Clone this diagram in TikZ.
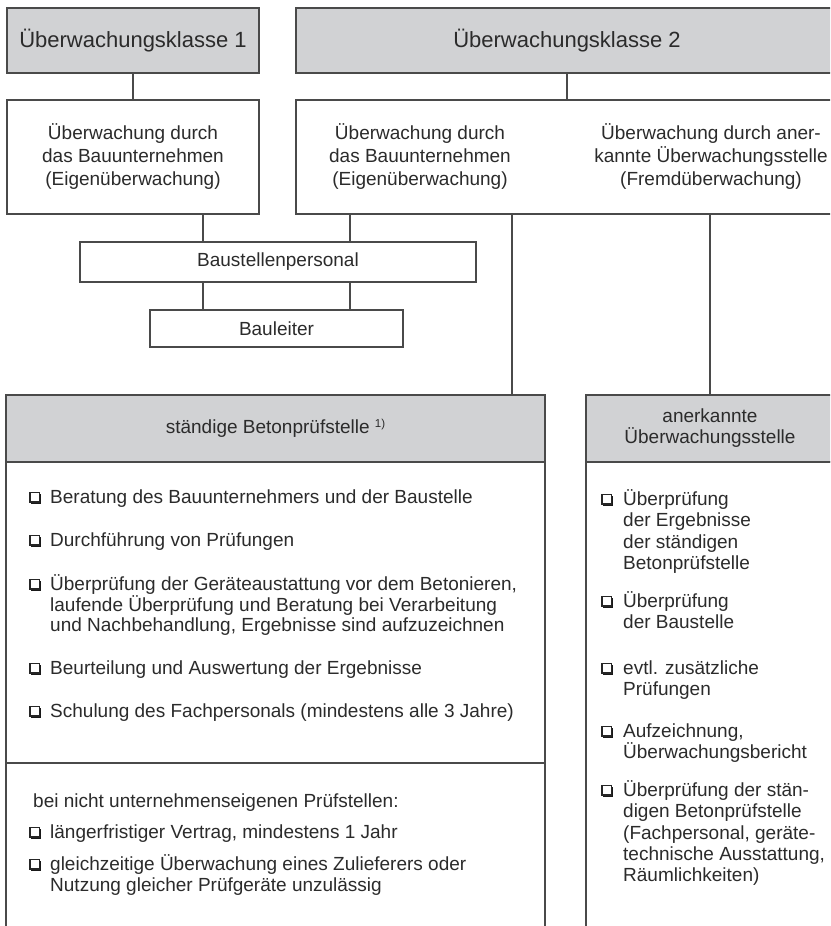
\documentclass[tikz,border=0pt]{standalone}
\usepackage{fontspec}
\setmainfont{Liberation Sans}
\usetikzlibrary{calc}

\definecolor{linegray}{HTML}{4A4A4A}
\definecolor{headgray}{HTML}{D1D2D4}
\definecolor{textgray}{HTML}{2B2B2B}

% shadowed check box used in front of every list entry
\newcommand\cbx{\tikz[baseline=0pt,x=1pt,y=1pt]{%
  \fill[black!90] (2.2,-0.4) rectangle (12.2,9.6);
  \draw[black!85,fill=white,line width=1.6pt] (0.8,1.4) rectangle (10.2,10.8);}}
\newcommand\fl{\rule{0pt}{19pt}}          % fixed height of the first line
\newcommand\cbl{\makebox[21pt][l]{\cbx}}  % box + gap, left column
\newcommand\cbr{\makebox[22pt][l]{\cbx}}  % box + gap, right column
\newcommand\indl{\hspace*{21pt}}
\newcommand\indr{\hspace*{22pt}}

\tikzset{
  frame/.style={draw=linegray, line width=1.4pt, inner sep=0pt},
  headbox/.style={frame, fill=headgray},
  plainbox/.style={frame, fill=white},
  link/.style={draw=linegray, line width=1.4pt},
  headtext/.style={font=\fontsize{22}{26}\selectfont, text=textgray},
  bodytext/.style={font=\fontsize{19}{23}\selectfont, text=textgray, align=center},
  listitem/.style={font=\fontsize{19}{20.8}\selectfont, text=textgray, align=left,
                   anchor=north west, inner sep=0pt},
  listitemr/.style={listitem, font=\fontsize{19}{21.4}\selectfont},
}

\begin{document}
\begin{tikzpicture}[x=1pt, y=-1pt]
\useasboundingbox (0,0) rectangle (830,926);
\clip (0,0) rectangle (830,926);
\fill[white] (0,0) rectangle (830,926);

% monitoring classes
\node[headbox, headtext, minimum width=252, minimum height=65] (k1) at (133,40.5) {Überwachungsklasse 1};
\node[headbox, headtext, minimum width=542, minimum height=65] (k2) at (567,40.5) {Überwachungsklasse 2};

% who monitors
\node[plainbox, bodytext, minimum width=252, minimum height=114] (e1) at (133,157)
  {Überwachung durch\\das Bauunternehmen\\(Eigenüberwachung)};
\node[plainbox, minimum width=542, minimum height=114] (e2) at (567,157) {};
\node[bodytext] (e2l) at (420,157) {Überwachung durch\\das Bauunternehmen\\(Eigenüberwachung)};
\node[bodytext] (e2r) at (711,157) {Überwachung durch aner-\\kannte Überwachungsstelle\\(Fremdüberwachung)};

% site staff
\node[plainbox, bodytext, minimum width=396, minimum height=40] (bp) at (278,262) {Baustellenpersonal};
\node[plainbox, bodytext, minimum width=253, minimum height=37] (bl) at (276.5,328.5) {Bauleiter};

% permanent concrete testing body
\node[headbox, bodytext, minimum width=539, minimum height=67] (sb) at (275.5,428.5)
  {ständige Betonprüfstelle \raisebox{6pt}{\fontsize{11.5}{11.5}\selectfont 1)}};
\node[plainbox, minimum width=539, minimum height=301] (sbody) at (275.5,612.5) {};
\node[plainbox, minimum width=539, minimum height=197] (sfoot) at (275.5,861.5) {};

% recognised monitoring body
\node[headbox, bodytext, minimum width=248, minimum height=67] (ab) at (710,428.5)
  {anerkannte\\[-2pt]Überwachungsstelle};
\node[plainbox, minimum width=248, minimum height=498] (abody) at (710,711) {};

% connector columns
\coordinate (xa) at (203,0);
\coordinate (xb) at (350,0);
\coordinate (xc) at (512,0);
\coordinate (xd) at (710,0);

\draw[link] (k1.south) -- (e1.north);
\draw[link] (k2.south) -- (e2.north);
\draw[link] (e1.south -| xa) -- (bp.north -| xa);
\draw[link] (e2.south -| xb) -- (bp.north -| xb);
\draw[link] (bp.south -| xa) -- (bl.north -| xa);
\draw[link] (bp.south -| xb) -- (bl.north -| xb);
\draw[link] (e2.south -| xc) -- (sb.north -| xc);
\draw[link] (e2.south -| xd) -- (ab.north -| xd);

% tasks of the permanent testing body
\node[listitem] (s1) at (29,484) {\fl\cbl Beratung des Bauunternehmers und der Baustelle};
\node[listitem] (s2) at (29,527) {\fl\cbl Durchführung von Prüfungen};
\node[listitem] (s3) at (29,571) {\fl\cbl Überprüfung der Geräteaustattung vor dem Betonieren,\\
  \indl laufende Überprüfung und Beratung bei Verarbeitung\\
  \indl und Nachbehandlung, Ergebnisse sind aufzuzeichnen};
\node[listitem] (s4) at (29,655) {\fl\cbl Beurteilung und Auswertung der Ergebnisse};
\node[listitem] (s5) at (29,698) {\fl\cbl Schulung des Fachpersonals (mindestens alle 3 Jahre)};

\node[listitem] (f0) at (33,788) {\fl bei nicht unternehmenseigenen Prüfstellen:};
\node[listitem] (f1) at (29,819) {\fl\cbl längerfristiger Vertrag, mindestens 1 Jahr};
\node[listitem] (f2) at (29,851) {\fl\cbl gleichzeitige Überwachung eines Zulieferers oder\\
  \indl Nutzung gleicher Prüfgeräte unzulässig};

% tasks of the recognised monitoring body
\node[listitemr] (a1) at (601,486) {\fl\cbr Überprüfung\\\indr der Ergebnisse\\\indr der ständigen\\\indr Betonprüfstelle};
\node[listitemr] (a2) at (601,588) {\fl\cbr Überprüfung\\\indr der Baustelle};
\node[listitemr] (a3) at (601,655) {\fl\cbr evtl. zusätzliche\\\indr Prüfungen};
\node[listitemr] (a4) at (601,718) {\fl\cbr Aufzeichnung,\\\indr Überwachungsbericht};
\node[listitemr] (a5) at (601,777) {\fl\cbr Überprüfung der stän-\\\indr digen Betonprüfstelle\\
  \indr (Fachpersonal, geräte-\\\indr technische Ausstattung,\\\indr Räumlichkeiten)};
\end{tikzpicture}
\end{document}
